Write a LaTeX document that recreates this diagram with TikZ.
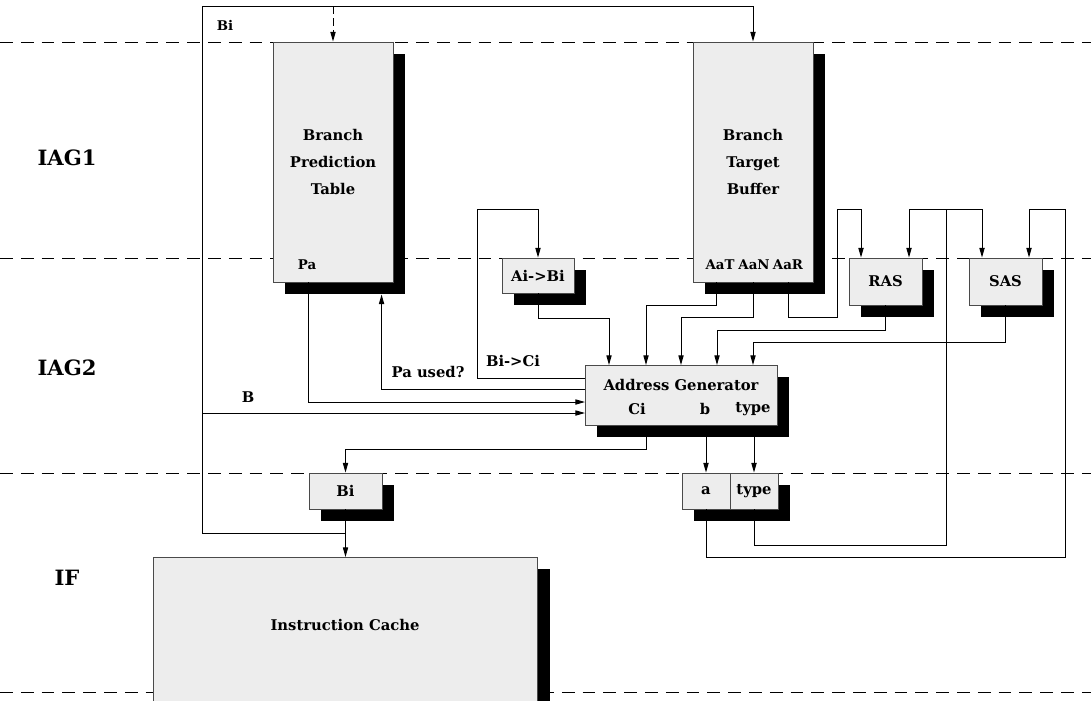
\documentclass[tikz,border=0pt]{standalone}
\usepackage{fontspec}
\setmainfont{DejaVu Serif}
\usepackage{tikz}
\usetikzlibrary{arrows.meta,positioning,calc,shadows}
\definecolor{boxgrey}{HTML}{EDEDED}
\definecolor{edge}{HTML}{4A4A4A}

\begin{document}
\begin{tikzpicture}[x=0.025cm, y=-0.025cm,
    font=\fontsize{10.5}{19}\selectfont\bfseries,
    unit/.style={draw=edge, fill=boxgrey, line width=0.6pt, inner sep=0pt, align=center,
                 drop shadow={shadow xshift=3mm, shadow yshift=-3mm, fill=black, opacity=1}},
    tag/.style={font=\fontsize{9.5}{11}\selectfont\bfseries, inner sep=1pt},
    stagename/.style={font=\fontsize{15}{18}\selectfont\bfseries},
    stage/.style={line width=0.6pt, dash pattern=on 3.2mm off 2mm},
    wire/.style={line width=0.7pt},
    arr/.style={wire, -{Triangle[length=2.4mm,width=1.3mm]}}]
  \useasboundingbox (0,0) rectangle (1091,700);
  \clip (0,0) rectangle (1091,700);

  % pipeline stages
  \foreach \y in {42,258,473,692}
    \draw[stage] (0,\y) -- (1091,\y);
  \foreach \y/\t in {158/IAG1, 368/IAG2, 578/IF}
    \node[stagename] (stage-\t) at (67,\y) {\t};

  % IAG1 tables
  \node[unit, minimum width=3cm, minimum height=6cm] (bpt) at (333,162) {Branch\\Prediction\\Table};
  \node[unit, minimum width=3cm, minimum height=6cm] (btb) at (753,162) {Branch\\Target\\Buffer};
  \node[tag] (pa) at (307,265) {Pa};
  \node[tag] (aat) at (720,265) {AaT};
  \node[tag] (aan) at (754,265) {AaN};
  \node[tag] (aar) at (788,265) {AaR};

  % IAG2 units
  \node[unit, minimum width=1.8cm, minimum height=0.875cm] (aibi) at (538,275.5) {Ai->Bi};
  \node[unit, minimum width=1.825cm, minimum height=1.175cm] (ras) at (885.5,281.5) {RAS};
  \node[unit, minimum width=1.825cm, minimum height=1.175cm] (sas) at (1005.5,281.5) {SAS};
  \node[unit, minimum width=4.8cm, minimum height=1.5cm, anchor=north west] (ag) at (585,365) {};
  \node (agname) at (681,385) {Address Generator};
  \node (ci) at (637,409) {Ci};
  \node (bname) at (705,409) {b};
  \node (typename) at (753,409) {type};

  % IF registers and cache
  \node[unit, minimum width=1.825cm, minimum height=0.9cm] (bi) at (345.5,491) {Bi};
  \node[unit, minimum width=1.2cm, minimum height=0.9cm] (a) at (706,491) {a};
  \node[unit, minimum width=1.2cm, minimum height=0.9cm] (type) at (754,491) {type};
  \node[unit, minimum width=9.6cm, minimum height=5cm, anchor=north west] (ic) at (153,557) {};
  \node (icname) at (345,625) {Instruction Cache};

  % ports and bends
  \coordinate (bus) at (202,533);
  \coordinate (bustop) at (202,6);
  \coordinate (loopA) at (477,209);
  \coordinate (loopR) at (837,209);
  \coordinate (split) at (946,209);
  \coordinate (loopS) at (1065,209);
  \coordinate (agCi) at ($(ag.north west)+(0,13)$);
  \coordinate (agUse) at ($(ag.north west)+(0,24)$);
  \coordinate (agPa) at ($(ag.north west)+(0,37)$);
  \coordinate (agB) at ($(ag.north west)+(0,48)$);
  \coordinate (paout) at ($(bpt.south west)+(36,0)$);
  \coordinate (pause) at ($(bpt.south west)+(109,12)$);
  \coordinate (aatout) at ($(btb.south west)+(24,0)$);
  \coordinate (aarout) at ($(btb.south west)+(96,0)$);
  \coordinate (ciout) at ($(ag.south west)+(61,0)$);
  \coordinate (rasL) at ($(ras.north)+(-24.5,0)$);
  \coordinate (rasR) at ($(ras.north)+(23.5,0)$);
  \coordinate (sasL) at ($(sas.north)+(-23.5,0)$);
  \coordinate (sasR) at ($(sas.north)+(23.5,0)$);
  \foreach \n/\dx in {1/24, 2/61, 3/96, 4/132, 5/168}
    \coordinate (in\n) at ($(ag.north west)+(\dx,0)$);

  % Bi bus
  \draw[arr] (bi.south) -- (bi.south |- ic.north);
  \draw[arr] (bus -| bi.south) -- (bus) -- (bustop) -| (btb.north);
  \draw[arr, dash pattern=on 2mm off 1mm] (bustop -| bpt.north) -- (bpt.north);
  \node[tag] (bitop) at (225,25) {Bi};
  \draw[arr] (bus |- agB) -- (agB);
  \node (blabel) at (248,397) {B};

  % prediction
  \draw[arr] (paout) |- (agPa);
  \draw[arr] (agUse) -| (pause);
  \node (pauselabel) at (428,372) {Pa used?};
  \draw[arr] (agCi) -| (loopA) -| (aibi.north);
  \node (bicilabel) at (513,361) {Bi->Ci};

  % inputs of the address generator
  \foreach \src/\yy/\dst in {aibi.south/318/in1, aatout/305/in2, btb.south/317/in3,
                             ras.south/330/in4, sas.south/342/in5}
    \draw[arr] (\src) -- (\src |- 0,\yy) -| (\dst);
  \draw[arr] (aarout) -- (aarout |- 0,317) -| (loopR) -| (rasL);

  % outputs
  \draw[arr] (ciout) -- (ciout |- 0,449) -| (bi.north);
  \draw[arr] (a.north |- ag.south) -- (a.north);
  \draw[arr] (type.north |- ag.south) -- (type.north);
  \draw[wire] (type.south) -- (type.south |- 0,545) -| (split);
  \draw[arr] (split) -| (rasR);
  \draw[arr] (split) -| (sasL);
  \draw[arr] (a.south) -- (a.south |- 0,557) -| (loopS) -| (sasR);
\end{tikzpicture}
\end{document}
